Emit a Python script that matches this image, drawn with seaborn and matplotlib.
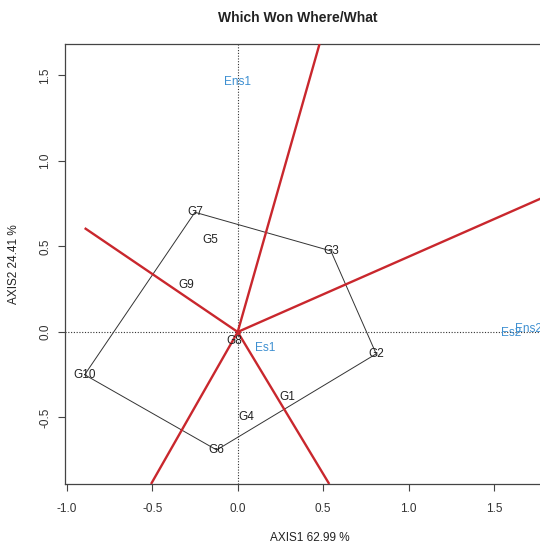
import numpy as np
import pandas as pd
import seaborn as sns
import matplotlib.pyplot as plt

# Genotype scores (AXIS1, AXIS2)
genotypes = ["G1", "G2", "G3", "G4", "G5", "G6", "G7", "G8", "G9", "G10"]
gen_x = [0.29, 0.81, 0.545, 0.053, -0.16, -0.123, -0.25, -0.02, -0.30, -0.895]
gen_y = [-0.38, -0.128, 0.474, -0.497, 0.54, -0.69, 0.70, -0.05, 0.275, -0.25]

# Environment scores
environments = ["Es1", "Es2", "Ens1", "Ens2"]
env_x = [0.158, 1.60, 0.0, 1.70]
env_y = [-0.094, -0.006, 1.46, 0.02]

axis1_pct = 62.99
axis2_pct = 24.41

gen_df = pd.DataFrame({"name": genotypes, "x": gen_x, "y": gen_y})
env_df = pd.DataFrame({"name": environments, "x": env_x, "y": env_y})

sns.set_theme(style="white")
plt.rcParams["font.family"] = ["Liberation Sans", "DejaVu Sans"]

xlim = (-1.01, 1.85)
ylim = (-0.889, 1.684)


def convex_hull(pts):
    pts = sorted(map(tuple, pts))

    def cross(o, a, b):
        return (a[0] - o[0]) * (b[1] - o[1]) - (a[1] - o[1]) * (b[0] - o[0])

    lower, upper = [], []
    for p in pts:
        while len(lower) >= 2 and cross(lower[-2], lower[-1], p) <= 0:
            lower.pop()
        lower.append(p)
    for p in reversed(pts):
        while len(upper) >= 2 and cross(upper[-2], upper[-1], p) <= 0:
            upper.pop()
        upper.append(p)
    return lower[:-1] + upper[:-1]


hull = convex_hull(gen_df[["x", "y"]].values)
hull_df = pd.DataFrame(hull + [hull[0]], columns=["x", "y"])

fig = plt.figure(figsize=(5.4, 5.43), dpi=100)
ax = fig.add_axes([65 / 540, 59 / 543, 489 / 540, 440 / 543])

# reference axes through the origin
ax.axhline(0, color="#333333", lw=0.8, ls=(0, (1, 1.5)), zorder=1)
ax.axvline(0, color="#333333", lw=0.8, ls=(0, (1, 1.5)), zorder=1)

# polygon
sns.lineplot(data=hull_df, x="x", y="y", sort=False, estimator=None,
             color="#333333", lw=0.7, ax=ax, zorder=2)

# rays from origin perpendicular to each polygon side
xmin_box = min(gen_x)
for i in range(len(hull)):
    p = np.array(hull[i])
    q = np.array(hull[(i + 1) % len(hull)])
    d = q - p
    n = np.array([d[1], -d[0]])
    if np.dot(n, p) < 0:
        n = -n
    n = n / np.linalg.norm(n)
    ts = []
    for k, (lo, hi) in enumerate([(xmin_box, 5.0), ylim]):
        if n[k] > 1e-9:
            ts.append(hi / n[k])
        elif n[k] < -1e-9:
            ts.append(lo / n[k])
    t = min(ts)
    ax.plot([0, n[0] * t], [0, n[1] * t], color="#c9272d", lw=1.7, zorder=3,
            solid_capstyle="butt")

ax.plot([0], [0], marker="o", ms=2.5, color="#c9272d", zorder=4)

for _, r in gen_df.iterrows():
    ax.text(r["x"], r["y"], r["name"], ha="center", va="center",
            fontsize=8.5, color="#222222", zorder=5)
for _, r in env_df.iterrows():
    ax.text(r["x"], r["y"], r["name"], ha="center", va="center",
            fontsize=8.5, color="#3d8fd1", zorder=5)

ax.set_xlim(*xlim)
ax.set_ylim(*ylim)
ax.set_xticks([-1.0, -0.5, 0.0, 0.5, 1.0, 1.5])
ax.set_yticks([-0.5, 0.0, 0.5, 1.0, 1.5])
ax.set_xticklabels(["-1.0", "-0.5", "0.0", "0.5", "1.0", "1.5"])
ax.set_yticklabels(["-0.5", "0.0", "0.5", "1.0", "1.5"], rotation=90, va="center")
ax.tick_params(axis="both", direction="out", length=5, width=0.8, color="#444444",
               labelsize=8.5, labelcolor="#333333", bottom=True, left=True)
ax.tick_params(axis="x", pad=9)
ax.tick_params(axis="y", pad=5)
for s in ax.spines.values():
    s.set_color("#444444")
    s.set_linewidth(0.9)

ax.set_xlabel(f"AXIS1 {axis1_pct} %", fontsize=8.5, color="#222222", labelpad=12)
ax.set_ylabel(f"AXIS2 {axis2_pct} %", fontsize=8.5, color="#222222", labelpad=14)

fig.text(298 / 540, 1 - 18 / 543, "Which Won Where/What", ha="center", va="center",
         fontsize=10, fontweight="bold", color="#222222")

fig.savefig("out.png", dpi=100)
